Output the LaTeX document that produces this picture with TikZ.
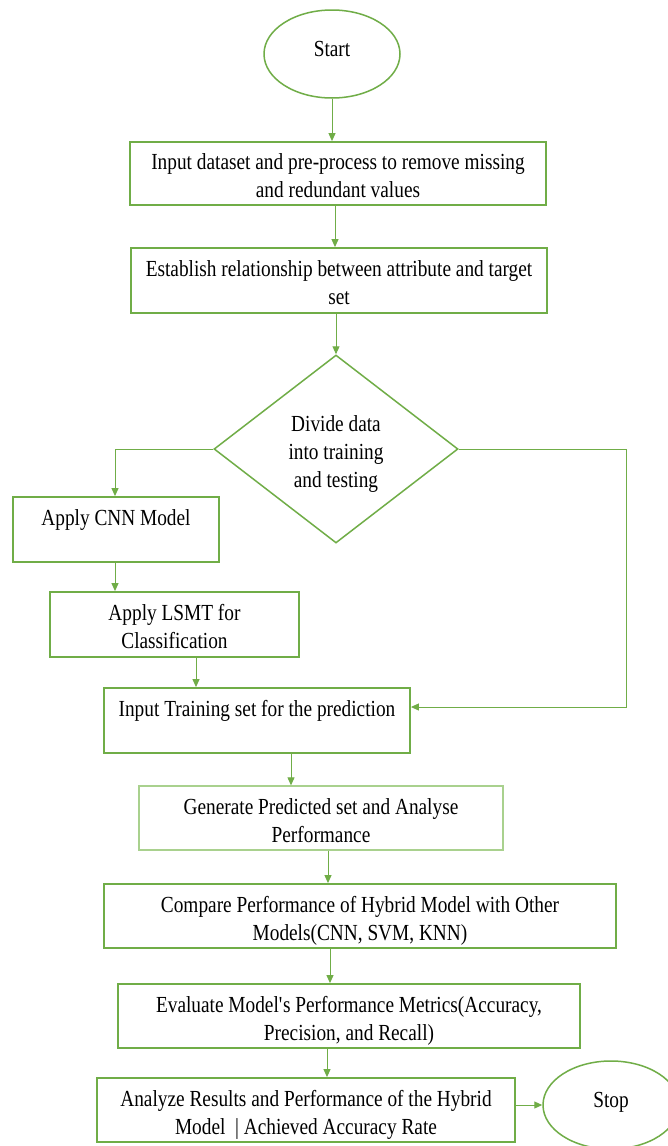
\documentclass[tikz,border=0pt]{standalone}
\usepackage{fontspec}
\setmainfont{Liberation Serif}[FakeStretch=0.84]
\usetikzlibrary{arrows.meta,shapes.geometric}
\definecolor{leaf}{HTML}{70AD47}
\definecolor{leaflight}{HTML}{A9D18E}
% struts that place the text lines inside the boxes
\newcommand\topln{\rule{0pt}{26pt}}
\newcommand\botln{\rule[-6pt]{0pt}{6pt}}
\newcommand\oneln{\rule{0pt}{16pt}\rule[-24pt]{0pt}{24pt}}
\newcommand\termln{\rule{0pt}{16pt}\rule[-12pt]{0pt}{12pt}}
\begin{document}
\begin{tikzpicture}[x=1pt,y=-1pt,
  every node/.style={font=\fontsize{23}{28}\selectfont, inner sep=0pt, align=center},
  stepbox/.style={draw=leaf, line width=1.8pt, rectangle},
  softbox/.style={draw=leaflight, line width=1.3pt, rectangle},
  term/.style={draw=leaf, line width=1.5pt, ellipse, minimum width=136pt, minimum height=88pt},
  decide/.style={draw=leaf, line width=1.5pt, diamond, minimum width=244pt, minimum height=188pt},
  flow/.style={draw=leaf, line width=1pt, -{Triangle[length=8pt,width=7pt]}}
]
\useasboundingbox (0,0) rectangle (668,1146);
\fill[white] (0,0) rectangle (668,1146);
\clip (0,0) rectangle (668,1146);

% nodes
\node[term] (start) at (332,54) {\termln Start};
\node[stepbox, minimum width=416pt, minimum height=63pt] (b1) at (338,173.5)
  {\topln Input dataset and pre-process to remove missing\\ and redundant values\botln};
\node[stepbox, minimum width=416pt, minimum height=65pt] (b2) at (339,280.5)
  {\topln Establish relationship between attribute and target\\ set\botln};
\node[decide] (d) at (336,449) {\topln Divide data\\ into training\\ and testing\botln};
\node[stepbox, minimum width=206pt, minimum height=65pt] (cnn) at (116,529.5)
  {\oneln Apply CNN Model};
\node[stepbox, minimum width=249pt, minimum height=65pt] (lsmt) at (174.5,624.5)
  {\topln Apply LSMT for\\ Classification\botln};
\node[stepbox, minimum width=306pt, minimum height=65pt] (train) at (257,720.5)
  {\oneln Input Training set for the prediction};
\node[softbox, minimum width=364pt, minimum height=64pt] (gen) at (321,818)
  {\topln Generate Predicted set and Analyse\\ Performance\botln};
\node[stepbox, minimum width=512pt, minimum height=64pt] (cmp) at (360,916)
  {\topln Compare Performance of Hybrid Model with Other\\ Models(CNN, SVM, KNN)\botln};
\node[stepbox, minimum width=462pt, minimum height=64pt] (eval) at (349,1016)
  {\topln Evaluate Model\textquotesingle s Performance Metrics(Accuracy,\\ Precision, and Recall)\botln};
\node[stepbox, minimum width=418pt, minimum height=64pt] (ana) at (306,1110)
  {\topln Analyze Results and Performance of the Hybrid\\ Model~ | Achieved Accuracy Rate\botln};
\node[term] (stop) at (611,1105) {\termln Stop};

% columns and corners for the connectors
\coordinate (c1) at (332,0);
\coordinate (c2) at (335,0);
\coordinate (c3) at (336,0);
\coordinate (c4) at (196,0);
\coordinate (c5) at (291,0);
\coordinate (c6) at (328,0);
\coordinate (c7) at (330,0);
\coordinate (c8) at (327,0);
\coordinate (rc) at (626,449);
\coordinate (lc) at (115,449);

% connectors
\draw[flow] (start.south) -- (b1.north -| c1);
\draw[flow] (b1.south -| c2) -- (b2.north -| c2);
\draw[flow] (b2.south -| c3) -- (d.north);
\draw[flow] (d.west) -- (lc) -- (cnn.north -| lc);
\draw[flow] (cnn.south -| lc) -- (lsmt.north -| lc);
\draw[flow] (lsmt.south -| c4) -- (train.north -| c4);
\draw[flow] (d.east) -- (rc) |- ([yshift=13.5pt]train.east);
\draw[flow] (train.south -| c5) -- (gen.north -| c5);
\draw[flow] (gen.south -| c6) -- (cmp.north -| c6);
\draw[flow] (cmp.south -| c7) -- (eval.north -| c7);
\draw[flow] (eval.south -| c8) -- (ana.north -| c8);
\draw[flow] ([yshift=5pt]ana.east) -- ([yshift=5pt]ana.east -| stop.west);
\end{tikzpicture}
\end{document}
